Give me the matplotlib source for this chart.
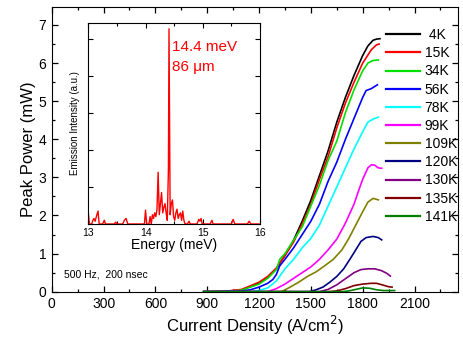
import numpy as np
import matplotlib
matplotlib.use("Agg")
import matplotlib.pyplot as plt
from matplotlib.ticker import MultipleLocator, NullFormatter

plt.rcParams['font.family'] = ['Liberation Sans', 'DejaVu Sans']

# L-I curves: current density (A/cm^2) vs peak power (mW) per heat-sink temperature
temps = [" 4K", "15K", "34K", "56K", "78K", "99K", "109K", "120K", "130K", "135K", "141K"]
colors = ["#000000", "#ff0000", "#00e000", "#0000ff", "#00ffff", "#ff00ff",
          "#808000", "#000080", "#800080", "#800000", "#008000"]

j_4k = [880, 1000, 1100, 1200, 1250, 1300, 1320, 1350, 1400, 1450, 1500, 1550, 1600,
        1650, 1700, 1750, 1800, 1830, 1860, 1880, 1900]
p_4k = [0, 0.0, 0.05, 0.22, 0.38, 0.6, 0.75, 0.95, 1.35, 1.85, 2.4, 3.05, 3.7,
        4.45, 5.1, 5.68, 6.2, 6.45, 6.6, 6.63, 6.64]

j_15k = [880, 1000, 1100, 1200, 1250, 1300, 1350, 1400, 1450, 1500, 1550, 1600, 1650,
         1700, 1750, 1800, 1850, 1880, 1895]
p_15k = [0, 0.01, 0.06, 0.25, 0.4, 0.62, 0.95, 1.3, 1.78, 2.3, 2.95, 3.55, 4.3,
         4.95, 5.5, 6.0, 6.35, 6.48, 6.5]

j_34k = [880, 1000, 1100, 1200, 1250, 1300, 1320, 1350, 1400, 1450, 1500, 1550, 1600,
         1650, 1700, 1750, 1800, 1830, 1860, 1890]
p_34k = [0, 0.0, 0.04, 0.2, 0.35, 0.58, 0.85, 1.0, 1.35, 1.7, 2.25, 2.8, 3.45,
         3.95, 4.7, 5.3, 5.8, 6.0, 6.07, 6.08]

j_56k = [880, 1100, 1150, 1200, 1250, 1280, 1300, 1320, 1350, 1400, 1450, 1500, 1550,
         1600, 1650, 1700, 1750, 1800, 1820, 1850, 1885]
p_56k = [0, 0.02, 0.05, 0.12, 0.22, 0.32, 0.45, 0.68, 0.85, 1.15, 1.5, 1.85, 2.3,
         2.9, 3.4, 4.0, 4.55, 5.1, 5.28, 5.33, 5.43]

j_78k = [880, 1150, 1200, 1250, 1300, 1350, 1400, 1450, 1500, 1550, 1600, 1650, 1700,
         1750, 1800, 1830, 1860, 1890]
p_78k = [0, 0, 0.03, 0.1, 0.28, 0.6, 0.85, 1.15, 1.4, 1.75, 2.25, 2.75, 3.25,
         3.75, 4.2, 4.45, 4.53, 4.58]

j_99k = [880, 1250, 1300, 1350, 1400, 1450, 1500, 1550, 1600, 1650, 1700, 1750, 1780,
         1800, 1830, 1850, 1870, 1890, 1910]
p_99k = [0, 0, 0.08, 0.2, 0.35, 0.5, 0.65, 0.85, 1.1, 1.38, 1.8, 2.3, 2.7,
         2.95, 3.25, 3.33, 3.32, 3.25, 3.24]

j_109k = [880, 1330, 1380, 1430, 1480, 1530, 1580, 1630, 1680, 1720, 1760, 1800, 1830,
          1860, 1890]
p_109k = [0, 0, 0.12, 0.25, 0.4, 0.52, 0.68, 0.85, 1.1, 1.4, 1.75, 2.1, 2.35,
          2.45, 2.41]

j_120k = [880, 1490, 1530, 1570, 1610, 1650, 1690, 1730, 1760, 1790, 1820, 1860, 1890, 1910]
p_120k = [0, 0, 0.05, 0.12, 0.25, 0.4, 0.6, 0.88, 1.1, 1.32, 1.42, 1.45, 1.42, 1.36]

j_130k = [880, 1550, 1600, 1650, 1700, 1750, 1790, 1830, 1870, 1910, 1940, 1960]
p_130k = [0, 0, 0.06, 0.18, 0.34, 0.5, 0.58, 0.6, 0.6, 0.55, 0.48, 0.41]

j_135k = [880, 1600, 1650, 1700, 1750, 1800, 1850, 1880, 1920, 1950, 1970]
p_135k = [0, 0, 0.02, 0.08, 0.16, 0.2, 0.22, 0.22, 0.17, 0.13, 0.12]

j_141k = [880, 1680, 1720, 1760, 1800, 1840, 1880, 1920, 1960, 1985]
p_141k = [0, 0, 0.02, 0.06, 0.1, 0.09, 0.05, 0.03, 0.03, 0.03]

currents = [j_4k, j_15k, j_34k, j_56k, j_78k, j_99k, j_109k, j_120k, j_130k, j_135k, j_141k]
powers = [p_4k, p_15k, p_34k, p_56k, p_78k, p_99k, p_109k, p_120k, p_130k, p_135k, p_141k]

# emission spectrum (inset)
energy = [13.00, 13.02, 13.06, 13.08, 13.10, 13.12, 13.15, 13.17, 13.19, 13.25, 13.28, 13.30,
          13.45, 13.48, 13.50, 13.60, 13.63, 13.66, 13.69, 13.98, 14.00, 14.02, 14.06, 14.08,
          14.10, 14.12, 14.14, 14.16, 14.18, 14.20, 14.22, 14.24, 14.26, 14.28, 14.30, 14.32,
          14.34, 14.36, 14.38, 14.40, 14.41, 14.43, 14.45, 14.47, 14.49, 14.51, 14.53, 14.55,
          14.57, 14.59, 14.61, 14.63, 14.65, 14.67, 14.69, 14.73, 14.76, 14.78, 14.90, 14.93,
          14.95, 14.97, 14.99, 15.13, 15.16, 15.18, 15.50, 15.53, 15.56, 15.78, 15.81, 15.84,
          16.00]
intensity = [0.06, 0.0, 0.0, 0.02, 0.03, 0.015, 0.05, 0.07, 0.0, 0.0, 0.02, 0.0,
             0.0, 0.01, 0.0, 0.0, 0.02, 0.03, 0.0, 0.0, 0.075, 0.0, 0.0, 0.04,
             0.0, 0.05, 0.03, 0.06, 0.04, 0.08, 0.28, 0.05, 0.11, 0.17, 0.06, 0.09,
             0.11, 0.06, 0.02, 0.3, 1.055, 0.05, 0.11, 0.13, 0.04, 0.02, 0.06, 0.08,
             0.03, 0.05, 0.06, 0.02, 0.07, 0.02, 0.0, 0.0, 0.015, 0.0, 0.0, 0.025,
             0.015, 0.03, 0.0, 0.0, 0.02, 0.0, 0.0, 0.025, 0.0, 0.0, 0.015, 0.0,
             0.0]

fig = plt.figure(figsize=(4.63, 3.40), dpi=100)
ax = fig.add_axes([0.1117, 0.1421, 0.8769, 0.8382])

for j, p, c, t in zip(currents, powers, colors, temps):
    ax.plot(j, p, color=c, lw=1.2, label=t)

ax.set_xlim(0, 2350)
ax.set_ylim(0, 7.48)
ax.xaxis.set_major_locator(MultipleLocator(300))
ax.xaxis.set_minor_locator(MultipleLocator(150))
ax.yaxis.set_major_locator(MultipleLocator(1))
ax.yaxis.set_minor_locator(MultipleLocator(0.5))
ax.tick_params(which='both', direction='in', top=True, right=True, labelsize=10, pad=4)
ax.tick_params(which='major', length=4, width=0.9)
ax.tick_params(which='minor', length=2.2, width=0.9)
ax.set_xlabel("Current Density (A/cm$^2$)", fontsize=12, labelpad=2)
ax.set_ylabel("Peak Power (mW)", fontsize=12, labelpad=2)
ax.text(70, 0.38, "500 Hz,  200 nsec", fontsize=7.5)

leg = ax.legend(loc='upper left', bbox_to_anchor=(0.823, 0.925), frameon=False,
                fontsize=10, handlelength=2.45, handletextpad=0.35,
                labelspacing=0.3, borderaxespad=0, borderpad=0)
for line in leg.get_lines():
    line.set_linewidth(1.6)

# inset: emission spectrum
ins = fig.add_axes([0.1907, 0.3412, 0.3709, 0.5920])
ins.plot(energy, intensity, color='#ff0000', lw=1.0)
ins.set_xlim(13, 16)
ins.set_ylim(0, 1.088)
ins.xaxis.set_major_locator(MultipleLocator(1))
ins.xaxis.set_minor_locator(MultipleLocator(0.5))
ins.yaxis.set_major_locator(MultipleLocator(0.2))
ins.yaxis.set_major_formatter(NullFormatter())
ins.tick_params(which='both', direction='in', top=True, right=True, labelsize=7.5, pad=3)
ins.tick_params(which='major', length=3.5, width=0.8)
ins.tick_params(which='minor', length=2, width=0.8)
ins.set_xlabel("Energy (meV)", fontsize=10, labelpad=0)
ins.set_ylabel("Emission Intensity (a.u.)", fontsize=7, labelpad=3)
ins.text(0.49, 0.86, "14.4 meV", color='#ff0000', fontsize=11, transform=ins.transAxes)
ins.text(0.49, 0.76, "86 \u03bcm", color='#ff0000', fontsize=11, transform=ins.transAxes)

fig.savefig("out.png", dpi=100)
